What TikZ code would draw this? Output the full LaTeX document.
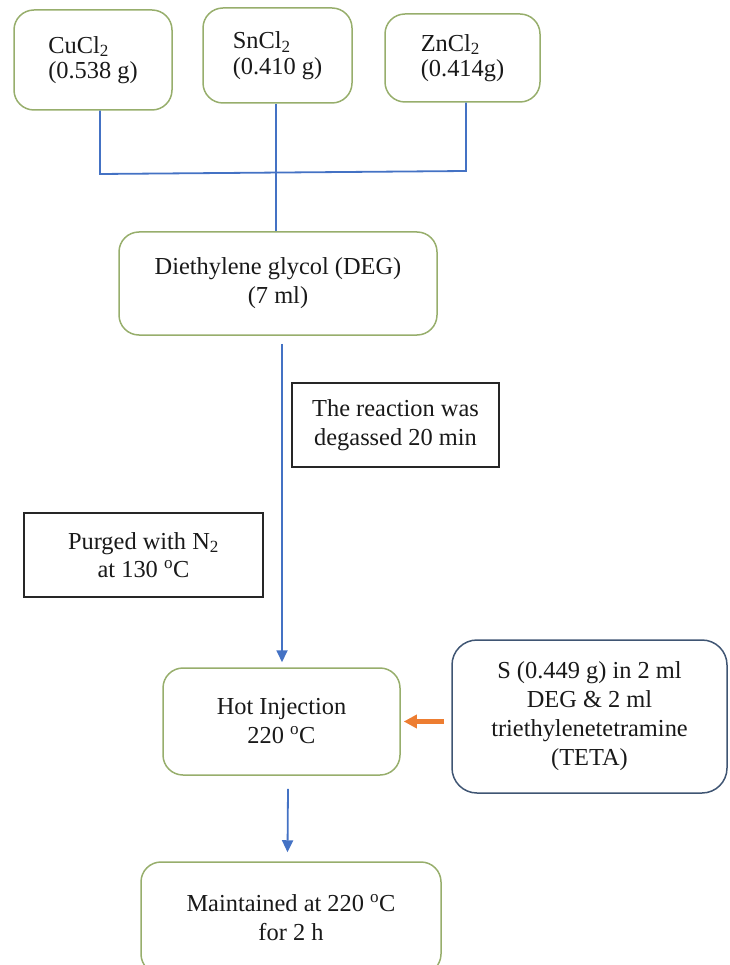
\documentclass[tikz,border=0pt]{standalone}
\usepackage{fontspec}
\setmainfont{Liberation Serif}
\usetikzlibrary{arrows.meta}
\definecolor{boxgreen}{HTML}{97AE6C}
\definecolor{slateblue}{HTML}{3F5573}
\definecolor{lineblue}{HTML}{4472C4}
\definecolor{arroworange}{HTML}{ED7D31}
\tikzset{
  stepnode/.style={draw=boxgreen, line width=1.5pt, rounded corners=20pt, align=center,
    inner sep=0pt, text=black!90, font=\fontsize{24.4}{29}\selectfont},
  saltnode/.style={stepnode, align=left, font=\fontsize{24.4}{25.5}\selectfont},
  notenode/.style={draw=black!85, line width=2pt, align=center, inner sep=0pt,
    text=black!90, font=\fontsize{24.4}{28.5}\selectfont},
  feed/.style={lineblue, line width=1.8pt},
  flow/.style={feed, -{Triangle[width=11pt,length=12pt]}},
}
\begin{document}
\begin{tikzpicture}[x=1pt,y=-1pt]
  \useasboundingbox (0,0) rectangle (729,965);
  % salts
  \node[saltnode, minimum width=158pt, minimum height=100pt] (cu) at (93,60) {CuCl\textsubscript{2}\\(0.538 g)};
  \node[saltnode, minimum width=149pt, minimum height=95pt] (sn) at (277.5,55.5) {SnCl\textsubscript{2}\\(0.410 g)};
  \node[saltnode, minimum width=155pt, minimum height=88pt] (zn) at (462.5,58) {ZnCl\textsubscript{2}\\(0.414g)};
  \node[stepnode, minimum width=318pt, minimum height=103pt] (deg) at (278,283.5) {Diethylene glycol (DEG)\\(7 ml)};
  % notes
  \node[notenode, minimum width=207pt, minimum height=84pt] (degas) at (395.5,425) {The reaction was\\degassed 20 min};
  \node[notenode, minimum width=239pt, minimum height=84pt] (purge) at (143.5,555) {Purged with N\textsubscript{2}\\at 130 \textsuperscript{o}C};
  % steps
  \node[stepnode, minimum width=237pt, minimum height=107pt] (hot) at (281.5,721.5) {Hot Injection\\220 \textsuperscript{o}C};
  \node[stepnode, draw=slateblue, rounded corners=25pt, minimum width=275pt, minimum height=153pt] (sbox) at (589.5,716.5)
    {S (0.449 g) in 2 ml\\DEG \& 2 ml\\triethylenetetramine\\(TETA)};
  \node[stepnode, minimum width=300pt, minimum height=112pt] (main) at (291,918) {Maintained at 220 \textsuperscript{o}C\\for 2 h};
  % connectors
  \coordinate (jl) at (100,174);
  \coordinate (jr) at (466,171);
  \coordinate (jm) at (276,173);
  \draw[feed] (cu.south -| jl) -- (jl) -- (jr) -- (zn.south -| jr);
  \draw[feed] (sn.south -| jm) -- (deg.north -| jm);
  \draw[flow] ([xshift=0.5pt,yshift=-8pt]deg.south -| hot.north) -- ([xshift=0.5pt,yshift=5pt]hot.north);
  \draw[flow] ([xshift=6.5pt,yshift=-13pt]hot.south) -- ([xshift=-3.5pt,yshift=9pt]main.north);
  \draw[arroworange, line width=4.5pt, -{Triangle[width=13pt,length=13pt]}] ([xshift=43pt]hot.east) -- ([xshift=3pt]hot.east);
\end{tikzpicture}
\end{document}
